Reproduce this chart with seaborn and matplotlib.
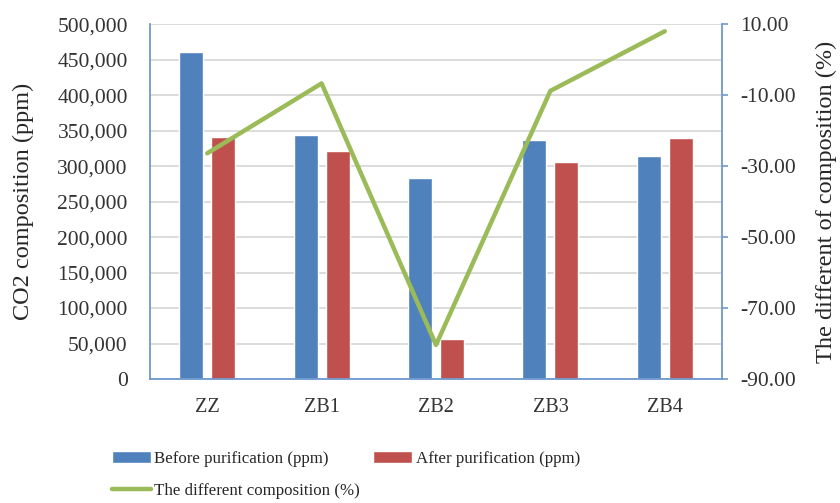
import numpy as np
import pandas as pd
import matplotlib
matplotlib.use("Agg")
import matplotlib.pyplot as plt
from matplotlib.ticker import FuncFormatter
from matplotlib.patches import Patch
from matplotlib.lines import Line2D
import seaborn as sns

# data
samples = ["ZZ", "ZB1", "ZB2", "ZB3", "ZB4"]
before_ppm = [461000, 344000, 283000, 337000, 314000]
after_ppm = [341000, 321000, 56000, 306000, 339000]
diff_pct = [-26.4, -6.7, -80.4, -8.8, 8.0]

lbl_before = "Before purification (ppm)"
lbl_after = "After purification (ppm)"
lbl_diff = "The different composition (%)"

blue = "#4F81BD"
red = "#C0504D"
green = "#9BBB59"
axis_col = "#6E99CF"

sns.set_style("white")
plt.rcParams["font.family"] = ["Liberation Serif", "DejaVu Serif"]

df = pd.DataFrame({
    "Sample": samples * 2,
    "ppm": before_ppm + after_ppm,
    "Series": [lbl_before] * 5 + [lbl_after] * 5,
})

fig = plt.figure(figsize=(8.4, 5.03), dpi=100)
ax = fig.add_axes([0.1786, 0.2465, 0.6809, 0.7055])

sns.barplot(data=df, x="Sample", y="ppm", hue="Series", palette=[blue, red],
            width=0.56, gap=0.25, ax=ax, legend=False, saturation=1)

ax.set_ylim(0, 500000)
ax.set_yticks(np.arange(0, 500001, 50000))
ax.yaxis.set_major_formatter(FuncFormatter(lambda v, p: f"{int(v):,}"))
ax.set_xlim(-0.5, 4.5)
ax.grid(axis="y", color="#D9D9D9", linewidth=1.3)
ax.set_axisbelow(True)
ax.set_xlabel("")
ax.set_ylabel("CO2 composition (ppm)", fontsize=17.5)
ax.yaxis.set_label_coords(-0.203, 0.5)
ax.tick_params(axis="y", length=0, labelsize=15.5, colors="#333333", pad=16)
ax.tick_params(axis="x", length=0, labelsize=14.5, colors="#333333", pad=14)
for s in ["top", "right"]:
    ax.spines[s].set_visible(False)
for s in ["left", "bottom"]:
    ax.spines[s].set_color(axis_col)
    ax.spines[s].set_linewidth(1.3)

ax2 = ax.twinx()
sns.lineplot(x=np.arange(len(samples)), y=diff_pct, color=green, linewidth=3.2,
             ax=ax2)
ax2.set_ylim(-90, 10)
ax2.set_yticks(np.arange(-90, 11, 20))
ax2.yaxis.set_major_formatter(FuncFormatter(lambda v, p: f"{v:.2f}"))
ax2.set_ylabel("The different of composition (%)", fontsize=17.5)
ax2.yaxis.set_label_coords(1.164, 0.5)
ax2.tick_params(axis="y", length=4, width=1.2, color=axis_col, labelsize=15.5,
                labelcolor="#333333", pad=9)
for s in ["top", "left", "bottom"]:
    ax2.spines[s].set_visible(False)
ax2.spines["right"].set_color(axis_col)
ax2.spines["right"].set_linewidth(1.3)

handles = [
    Patch(facecolor=blue, label=lbl_before),
    Line2D([], [], color=green, linewidth=3.2, label=lbl_diff),
    Patch(facecolor=red, label=lbl_after),
]
fig.legend(handles=handles, ncol=2, loc="lower left", bbox_to_anchor=(0.133, 0.008),
           frameon=False, fontsize=12.2, handlelength=2.3, handleheight=0.65,
           handletextpad=0.2, columnspacing=0.8, labelspacing=0.95, borderpad=0,
           borderaxespad=0)

fig.savefig("out.png", dpi=100)
